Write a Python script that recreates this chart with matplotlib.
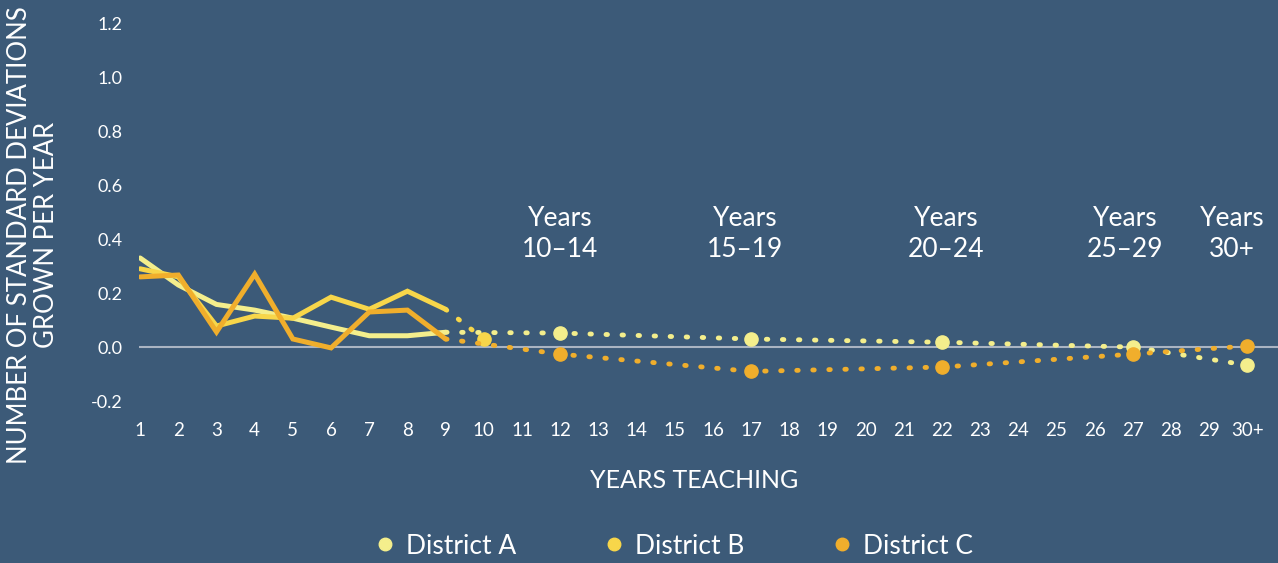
import matplotlib
matplotlib.use("Agg")
import matplotlib.pyplot as plt
from matplotlib.lines import Line2D

plt.rcParams['font.family'] = ['Lato', 'DejaVu Sans']

# solid part, years 1-9
years = list(range(1, 10))
dist_a = [0.33, 0.23, 0.158, 0.137, 0.107, 0.074, 0.042, 0.042, 0.055]
dist_b = [0.29, 0.26, 0.078, 0.115, 0.107, 0.185, 0.14, 0.207, 0.14]
dist_c = [0.26, 0.267, 0.056, 0.27, 0.03, -0.003, 0.13, 0.137, 0.03]

# dotted part (grouped years)
tail_years = [9, 12, 17, 22, 27, 30]
a_tail = [0.055, 0.052, 0.03, 0.018, 0.0, -0.067]
c_tail = [0.03, -0.026, -0.09, -0.074, -0.026, 0.004]
b_tail_years = [9, 10]
b_tail = [0.14, 0.03]

xtick_labels = [str(i) for i in range(1, 30)] + ['30+']
ytick_vals = [-0.2, 0.0, 0.2, 0.4, 0.6, 0.8, 1.0, 1.2]
ytick_labels = ['-0.2', '0.0', '0.2', '0.4', '0.6', '0.8', '1.0', '1.2']

group_labels = ['Years\n10\u201314', 'Years\n15\u201319', 'Years\n20\u201324',
                'Years\n25\u201329', 'Years\n30+']
group_x = [12, 16.85, 22.1, 26.8, 29.6]

series_names = ['District A', 'District B', 'District C']
colors = ['#f4ee8c', '#f7d64a', '#f0ae2c']
bg = '#3c5a78'

fig = plt.figure(figsize=(12.78, 5.63), dpi=100, facecolor=bg)
ax = fig.add_axes([139 / 1278, 1 - 410 / 563, 1 - 139 / 1278, 395 / 563])
ax.set_facecolor(bg)

ax.axhline(0, color='#aab4c2', lw=1.5, zorder=1)

solid = [dist_a, dist_b, dist_c]
for i, vals in enumerate(solid):
    ax.plot(years, vals, color=colors[i], lw=3.6, solid_capstyle='round',
            solid_joinstyle='miter', zorder=2 + i)

dot_kw = dict(lw=3.5, linestyle=(0, (0.3, 3.0)), dash_capstyle='round')
ax.plot(tail_years, a_tail, color=colors[0], zorder=2, **dot_kw)
ax.plot(tail_years[1:], a_tail[1:], 'o', color=colors[0], ms=9.5, zorder=2)
ax.plot(b_tail_years, b_tail, color=colors[1], zorder=3, **dot_kw)
ax.plot(b_tail_years[1:], b_tail[1:], 'o', color=colors[1], ms=9.5, zorder=3)
ax.plot(tail_years, c_tail, color=colors[2], zorder=4, **dot_kw)
ax.plot(tail_years[1:], c_tail[1:], 'o', color=colors[2], ms=9.5, zorder=4)

for x, lab in zip(group_x, group_labels):
    ax.text(x, 0.42, lab, color='white', fontsize=19, ha='center', va='center',
            linespacing=1.3)

ax.set_xlim(0.97, 30.8)
ax.set_ylim(-0.233, 1.23)
ax.set_xticks(range(1, 31))
ax.set_xticklabels(xtick_labels)
ax.set_yticks(ytick_vals)
ax.set_yticklabels(ytick_labels)
ax.tick_params(axis='x', length=0, pad=9, labelsize=13.5, labelcolor='white')
ax.tick_params(axis='y', length=0, pad=12, labelsize=13, labelcolor='white')
for s in ax.spines.values():
    s.set_visible(False)

fig.text(33 / 1278, 1 - 235 / 563,
         'NUMBER OF STANDARD DEVIATIONS\nGROWN PER YEAR',
         rotation=90, ha='center', va='center', color='white', fontsize=18.5,
         linespacing=1.1, multialignment='center')
fig.text(694 / 1278, 1 - 481 / 563, 'YEARS TEACHING', ha='center', va='center',
         color='white', fontsize=18)

handles = [Line2D([], [], marker='o', ls='', color=c, ms=9) for c in colors]
leg = fig.legend(handles, series_names, ncol=3, frameon=False, fontsize=19,
                 loc='center', bbox_to_anchor=(674 / 1278, 1 - 546 / 563),
                 handlelength=0.8, handletextpad=0.4, columnspacing=3.3)
for t in leg.get_texts():
    t.set_color('white')

fig.savefig('out.png', dpi=100, facecolor=bg)
